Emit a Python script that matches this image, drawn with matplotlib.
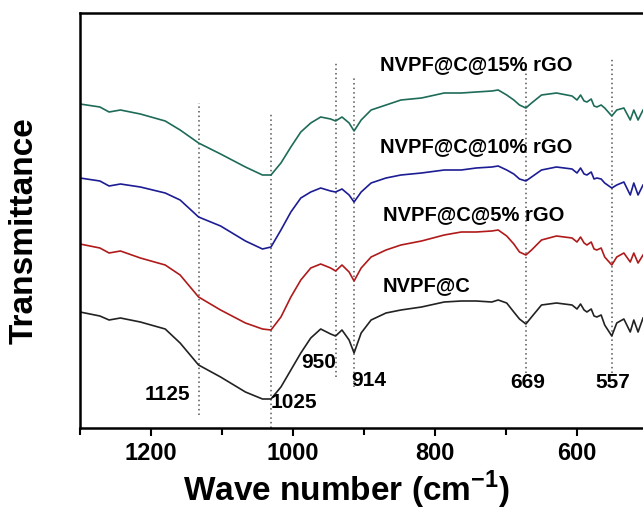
import numpy as np
import matplotlib
matplotlib.use("Agg")
import matplotlib.pyplot as plt

plt.rcParams['font.family'] = ['Liberation Sans', 'DejaVu Sans']
plt.rcParams['font.weight'] = 'bold'
plt.rcParams['mathtext.fontset'] = 'custom'
plt.rcParams['mathtext.rm'] = 'Liberation Sans:bold'
plt.rcParams['mathtext.bf'] = 'Liberation Sans:bold'

# wave numbers (cm-1)
wavenumber = [1300, 1272, 1259, 1243, 1215, 1180, 1159, 1133, 1102, 1067, 1043, 1031,
              1017, 1003, 989, 975, 961, 947, 940, 931, 921, 914, 904, 890, 869, 848,
              819, 787, 763, 742, 720, 711, 699, 689, 681, 672, 664, 650, 629, 607,
              600, 595, 590, 586, 580, 576, 572, 566,
              561, 551, 544, 534, 525, 520, 514, 507]

# transmittance (arbitrary units, curves already offset)
t_15 = [324, 321, 316, 318, 314, 307, 298, 285, 274, 261, 253, 253,
        265, 281, 296, 305, 311, 309, 307, 311, 305, 297, 308, 318, 323, 328,
        330, 335, 335, 336, 337, 338, 333, 328, 323, 320, 325, 333, 335, 332,
        328, 333, 327, 326, 329, 322, 321, 323,
        320, 312, 318, 320, 308, 318, 308, 318]
t_10 = [250, 247, 242, 244, 241, 235, 228, 211, 202, 187, 179, 181,
        198, 216, 230, 236, 240, 237, 236, 239, 233, 226, 236, 245, 250, 253,
        255, 258, 258, 260, 261, 262, 258, 254, 249, 247, 251, 258, 261, 259,
        255, 260, 254, 253, 256, 249, 250, 249,
        245, 240, 243, 246, 233, 245, 233, 243]
t_5 = [184, 180, 175, 177, 170, 163, 153, 131, 118, 105, 99, 98,
       111, 131, 148, 160, 164, 160, 157, 163, 156, 147, 160, 171, 178, 183,
       187, 193, 196, 196, 197, 198, 192, 184, 176, 173, 178, 188, 192, 190,
       186, 191, 185, 183, 186, 179, 178, 180,
       171, 163, 171, 175, 166, 175, 165, 173]
t_c = [116, 112, 108, 110, 106, 99, 85, 63, 51, 36, 29, 29,
       41, 58, 75, 90, 99, 94, 92, 98, 88, 75, 95, 108, 115, 118,
       121, 126, 127, 127, 126, 128, 125, 116, 109, 104, 111, 123, 125, 123,
       119, 124, 118, 116, 119, 112, 111, 113,
       103, 92, 105, 109, 96, 108, 96, 110]

series = [t_15, t_10, t_5, t_c]
names = ['NVPF@C@15% rGO', 'NVPF@C@10% rGO', 'NVPF@C@5% rGO', 'NVPF@C']
colors = ['#1d6b58', '#1c1c94', '#b01a1a', '#222222']
name_pos = [(877, 363), (877, 281), (873, 213), (874, 142)]

# dotted marker lines: position, bottom, top
mark_x = [1133, 1031, 940, 914, 672, 551]
mark_lo = [13, 0, 51, 41, 55, 55]
mark_hi = [325, 314, 365, 351, 366, 370]

peak_labels = ['1125', '1025', '950', '914', '669', '557']
peak_pos = [(1177, 34), (999, 26), (964, 66), (893, 47), (670, 46), (549, 45)]

fig = plt.figure(figsize=(6.43, 5.13), dpi=100)
ax = fig.add_axes([80 / 643, 1 - 428 / 513, 568 / 643, 415 / 513])

for xv, lo, hi in zip(mark_x, mark_lo, mark_hi):
    ax.plot([xv, xv], [lo, hi], color='#555555', lw=1.1, ls=(0, (1, 2)))

for y, c in zip(series, colors):
    ax.plot(wavenumber, y, color=c, lw=1.2)

for n, (px, py) in zip(names, name_pos):
    ax.text(px, py, n, fontsize=14.5, fontweight='bold', ha='left', va='center')

for lab, (px, py) in zip(peak_labels, peak_pos):
    ax.text(px, py, lab, fontsize=15, fontweight='bold', ha='center', va='center')

ax.set_xlim(1300, 500)
ax.set_ylim(0, 415)
ax.set_xticks([1200, 1000, 800, 600])
ax.set_xticks([1300, 1100, 900, 700, 500], minor=True)
ax.set_yticks([])
ax.tick_params(axis='x', which='major', length=6, width=1.5, labelsize=17, pad=4)
ax.tick_params(axis='x', which='minor', length=5, width=1.5)
for lab in ax.get_xticklabels():
    lab.set_fontweight('bold')
for s in ax.spines.values():
    s.set_linewidth(1.8)

fig.text(346 / 643, 1 - 490 / 513, r'Wave number (cm$^{-1}$)', fontsize=24,
         fontweight='bold', ha='center', va='center')
fig.text(24 / 643, 1 - 231 / 513, 'Transmittance', fontsize=24, fontweight='bold',
         rotation=90, ha='center', va='center')

fig.savefig('out.png', dpi=100)
